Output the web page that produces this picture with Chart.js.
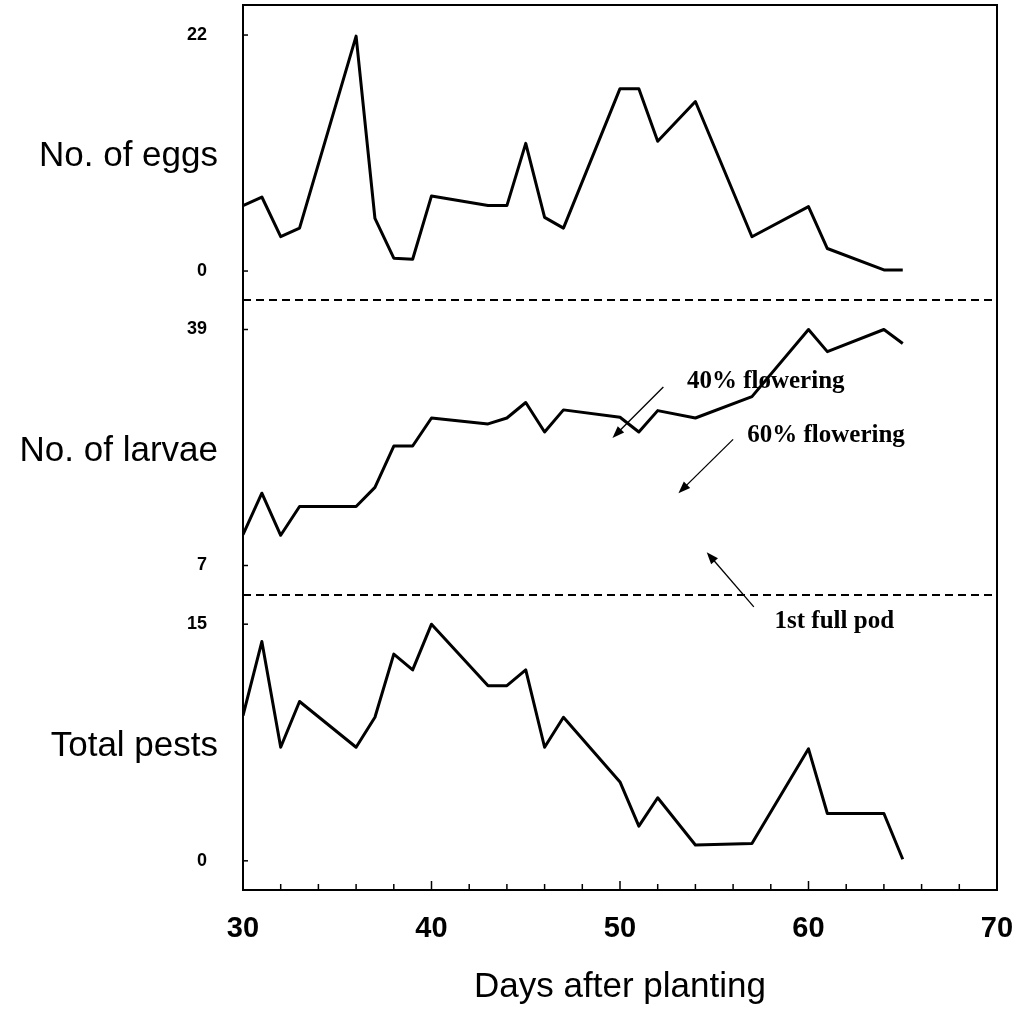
<!DOCTYPE html>
<html>
<head>
<meta charset="utf-8">
<script src="https://cdn.jsdelivr.net/npm/chart.js@4"></script>
<style>
  html, body { margin: 0; padding: 0; background: #fff; }
  canvas { display: block; }
</style>
</head>
<body>
<canvas id="chart" width="1023" height="1016"></canvas>
<script>
// values, one point per sampling day
const days   = [30, 31, 32, 33, 36, 37, 38, 39, 40, 43, 44, 45, 46, 47, 50, 51, 52, 54, 57, 60, 61, 64, 65];
const eggs   = [6.1, 6.9, 3.2, 4.0, 21.9, 4.9, 1.2, 1.1, 7.0, 6.1, 6.1, 11.9, 5.0, 4.0, 17.0, 17.0, 12.1, 15.8, 3.2, 6.0, 2.1, 0.1, 0.1];
const larvae = [11.2, 16.8, 11.1, 15.0, 15.0, 17.6, 23.2, 23.2, 27.0, 26.2, 27.0, 29.1, 25.1, 28.1, 27.1, 25.1, 28.0, 27.0, 29.9, 39.0, 36.0, 39.0, 37.1];
const pests  = [9.2, 13.9, 7.2, 10.1, 7.2, 9.1, 13.1, 12.1, 15.0, 11.1, 11.1, 12.1, 7.2, 9.1, 5.0, 2.2, 4.0, 1.0, 1.1, 7.1, 3.0, 3.0, 0.1];

const eggTicks    = [0, 22];
const larvaeTicks = [7, 39];
const pestTicks   = [0, 15];
const dayTicks    = [30, 40, 50, 60, 70];

const panelTitles = ["No. of eggs", "No. of larvae", "Total pests"];

// notes sit on the larvae panel, in (day, larvae) units
const notes = [
  { text: "40% flowering", at: [53.55, 31.1], from: [52.3, 31.2], to: [49.6, 24.3] },
  { text: "60% flowering", at: [56.75, 23.7], from: [56.0, 24.1], to: [53.1, 16.8] },
  { text: "1st full pod",  at: [58.2, -1.5],  from: [57.1, 1.4],  to: [54.6, 8.8] }
];

const toXY = vals => days.map((d, i) => ({ x: d, y: vals[i] }));

function panelAxis(min, max, tickValues, weight) {
  return {
    type: "linear",
    position: "left",
    stack: "panels",
    stackWeight: 1,
    offset: false,
    weight: weight,
    min: min,
    max: max,
    afterBuildTicks: s => { s.ticks = tickValues.map(v => ({ value: v })); },
    afterFit: s => { s.width = 243; s.paddingTop = 0; s.paddingBottom = 0; },
    grid: { display: false, drawTicks: false },
    border: { display: false },
    ticks: {
      padding: 36,
      color: "#000",
      font: { family: "'Liberation Sans', Arial, sans-serif", size: 18, weight: "bold" }
    }
  };
}

function arrow(ctx, x0, y0, x1, y1) {
  const ang = Math.atan2(y1 - y0, x1 - x0);
  ctx.lineWidth = 1.3;
  ctx.beginPath();
  ctx.moveTo(x0, y0);
  ctx.lineTo(x1 - 8 * Math.cos(ang), y1 - 8 * Math.sin(ang));
  ctx.stroke();
  ctx.beginPath();
  ctx.moveTo(x1, y1);
  ctx.lineTo(x1 - 12 * Math.cos(ang) + 4.5 * Math.sin(ang), y1 - 12 * Math.sin(ang) - 4.5 * Math.cos(ang));
  ctx.lineTo(x1 - 12 * Math.cos(ang) - 4.5 * Math.sin(ang), y1 - 12 * Math.sin(ang) + 4.5 * Math.cos(ang));
  ctx.closePath();
  ctx.fill();
}

const framePlugin = {
  id: "frame",
  afterDraw(chart) {
    const { ctx, chartArea: a, scales } = chart;
    const x = scales.x;
    ctx.save();
    ctx.strokeStyle = "#000";
    ctx.fillStyle = "#000";

    ctx.lineWidth = 2;
    ctx.strokeRect(a.left, a.top, a.right - a.left, a.bottom - a.top);

    ctx.setLineDash([8, 5]);
    [scales.yEggs.bottom, scales.yLarvae.bottom].forEach(y => {
      ctx.beginPath();
      ctx.moveTo(a.left, y);
      ctx.lineTo(a.right, y);
      ctx.stroke();
    });
    ctx.setLineDash([]);

    // inward ticks every 2 days
    ctx.lineWidth = 1.5;
    for (let v = x.min; v <= x.max; v += 2) {
      const px = x.getPixelForValue(v);
      const len = v % 10 === 0 ? 9 : 6;
      ctx.beginPath();
      ctx.moveTo(px, a.bottom);
      ctx.lineTo(px, a.bottom - len);
      ctx.stroke();
    }

    ["yEggs", "yLarvae", "yPests"].forEach((id, i) => {
      const s = scales[id];
      s.ticks.forEach(t => {
        const py = s.getPixelForValue(t.value);
        ctx.beginPath();
        ctx.moveTo(a.left, py);
        ctx.lineTo(a.left + 5, py);
        ctx.stroke();
      });
      ctx.font = "35px 'Liberation Sans', Arial, sans-serif";
      ctx.textAlign = "right";
      ctx.textBaseline = "alphabetic";
      ctx.fillText(panelTitles[i], 218, (s.top + s.bottom) / 2 + 13);
    });

    const yl = scales.yLarvae;
    ctx.font = "bold 25px 'Liberation Serif', 'Times New Roman', serif";
    ctx.textAlign = "left";
    notes.forEach(n => {
      ctx.fillText(n.text, x.getPixelForValue(n.at[0]), yl.getPixelForValue(n.at[1]));
      arrow(ctx,
        x.getPixelForValue(n.from[0]), yl.getPixelForValue(n.from[1]),
        x.getPixelForValue(n.to[0]), yl.getPixelForValue(n.to[1]));
    });
    ctx.restore();
  }
};

const line = {
  borderColor: "#000",
  borderWidth: 3,
  pointRadius: 0,
  tension: 0,
  borderJoinStyle: "round",
  fill: false
};

new Chart(document.getElementById("chart"), {
  type: "line",
  data: {
    datasets: [
      { ...line, label: "No. of eggs",   data: toXY(eggs),   yAxisID: "yEggs" },
      { ...line, label: "No. of larvae", data: toXY(larvae), yAxisID: "yLarvae" },
      { ...line, label: "Total pests",   data: toXY(pests),  yAxisID: "yPests" }
    ]
  },
  options: {
    responsive: false,
    animation: false,
    devicePixelRatio: 1,
    layout: { padding: { left: 0, top: 5, right: 26, bottom: 0 } },
    plugins: { legend: { display: false }, tooltip: { enabled: false } },
    scales: {
      x: {
        type: "linear",
        position: "bottom",
        min: 30,
        max: 70,
        afterBuildTicks: s => { s.ticks = dayTicks.map(v => ({ value: v })); },
        afterFit: s => { s.height = 126; s.paddingLeft = 0; s.paddingRight = 0; },
        grid: { display: false, drawTicks: false },
        border: { display: false },
        ticks: {
          padding: 22,
          maxRotation: 0,
          autoSkip: false,
          color: "#000",
          font: { family: "'Liberation Sans', Arial, sans-serif", size: 29, weight: "bold" }
        },
        title: {
          display: true,
          text: "Days after planting",
          color: "#000",
          padding: { top: 0, bottom: 8 },
          font: { family: "'Liberation Sans', Arial, sans-serif", size: 35 }
        }
      },
      yPests:  panelAxis(-1.85, 16.85, pestTicks, 1),
      yLarvae: panelAxis(3, 43, larvaeTicks, 2),
      yEggs:   panelAxis(-2.7, 24.8, eggTicks, 3)
    }
  },
  plugins: [framePlugin]
});
</script>
</body>
</html>
